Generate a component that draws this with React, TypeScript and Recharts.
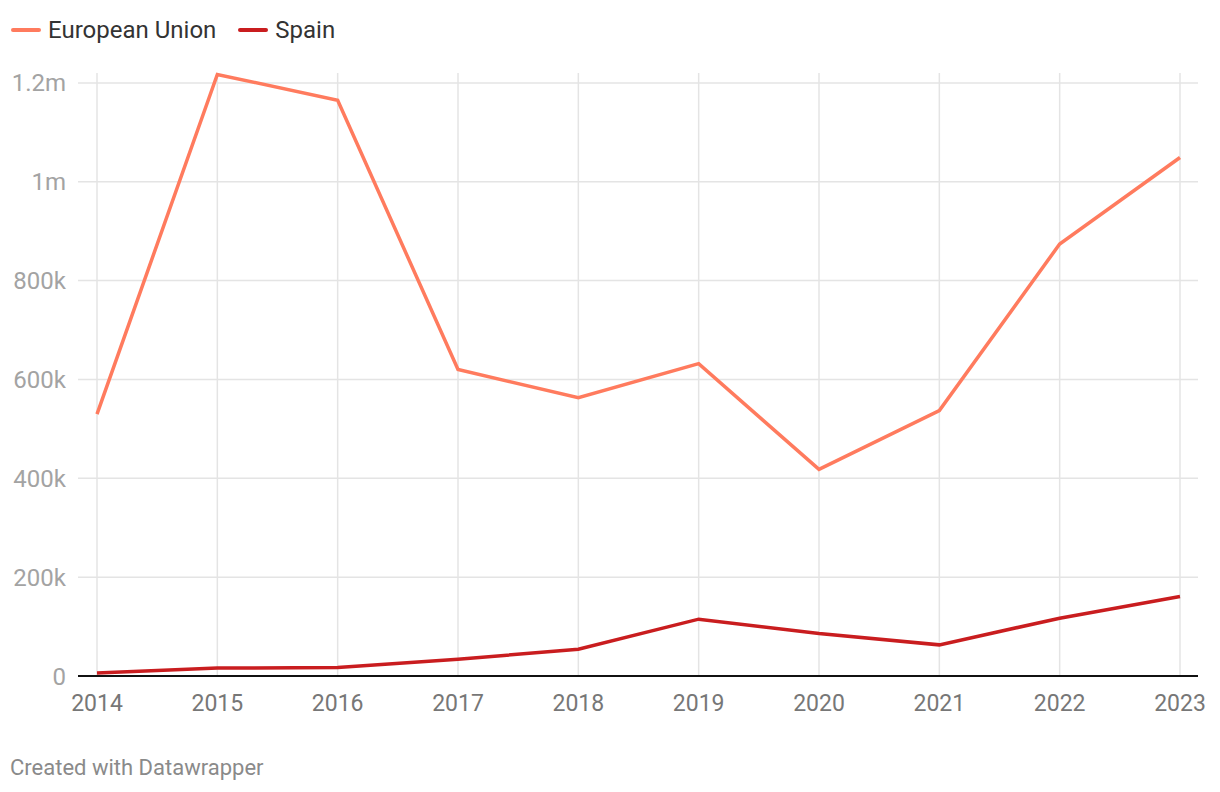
import { LineChart, Line, XAxis, YAxis, CartesianGrid } from "recharts";

const YEARS = ["2014", "2015", "2016", "2017", "2018", "2019", "2020", "2021", "2022", "2023"];
const EU_VALUES = [530000, 1217000, 1165000, 620000, 563000, 632000, 418000, 537000, 874000, 1049000];
const SPAIN_VALUES = [6000, 16000, 17000, 34000, 54000, 115000, 86000, 63000, 117000, 161000];
const Y_TICKS = [0, 200000, 400000, 600000, 800000, 1000000, 1200000];

const EU_COLOR = "#ff7b5e";
const SPAIN_COLOR = "#c91d1f";

const data = YEARS.map((year, i) => ({ year, eu: EU_VALUES[i], spain: SPAIN_VALUES[i] }));

const fmtY = (v: number) => {
  if (v === 0) return "0";
  if (v >= 1000000) return `${v / 1000000}m`;
  return `${v / 1000}k`;
};

export default function App() {
  return (
    <div
      style={{
        position: "relative",
        width: 1220,
        height: 792,
        margin: -8,
        background: "#fff",
        fontFamily: "Roboto, sans-serif",
      }}
    >
      {/* legend */}
      <div
        style={{
          position: "absolute",
          left: 11,
          top: 15,
          display: "flex",
          alignItems: "center",
          fontSize: 24,
          color: "#333",
          lineHeight: "30px",
        }}
      >
        {[
          { name: "European Union", color: EU_COLOR },
          { name: "Spain", color: SPAIN_COLOR },
        ].map((item) => (
          <div key={item.name} style={{ display: "flex", alignItems: "center", marginRight: 22 }}>
            <span
              style={{
                display: "inline-block",
                width: 30,
                height: 4,
                borderRadius: 2,
                background: item.color,
                marginRight: 7,
              }}
            />
            <span>{item.name}</span>
          </div>
        ))}
      </div>

      <div style={{ position: "absolute", left: 0, top: 0 }}>
        <LineChart width={1220} height={792} data={data} margin={{ top: 73, right: 22, left: 0, bottom: 76 }}>
          <CartesianGrid stroke="#e4e4e4" strokeWidth={1.5} syncWithTicks />
          <XAxis
            dataKey="year"
            padding={{ left: 19, right: 18 }}
            axisLine={{ stroke: "#111", strokeWidth: 2 }}
            tickLine={false}
            tickSize={0}
            tickMargin={19}
            height={40}
            tick={{ fill: "#777", fontSize: 23, fontFamily: "Roboto" }}
            interval={0}
          />
          <YAxis
            width={78}
            domain={[0, 1220000]}
            ticks={Y_TICKS}
            tickFormatter={fmtY}
            axisLine={false}
            tickLine={false}
            tickSize={0}
            tickMargin={12}
            tick={{ fill: "#a3a3a3", fontSize: 24, fontFamily: "Roboto" }}
          />
          <Line
            dataKey="eu"
            stroke={EU_COLOR}
            strokeWidth={3.5}
            dot={false}
            isAnimationActive={false}
          />
          <Line
            dataKey="spain"
            stroke={SPAIN_COLOR}
            strokeWidth={3.5}
            dot={false}
            isAnimationActive={false}
          />
        </LineChart>
      </div>

      <div
        style={{
          position: "absolute",
          left: 10,
          top: 755,
          fontSize: 22,
          color: "#8a8a8a",
        }}
      >
        Created with Datawrapper
      </div>
    </div>
  );
}
